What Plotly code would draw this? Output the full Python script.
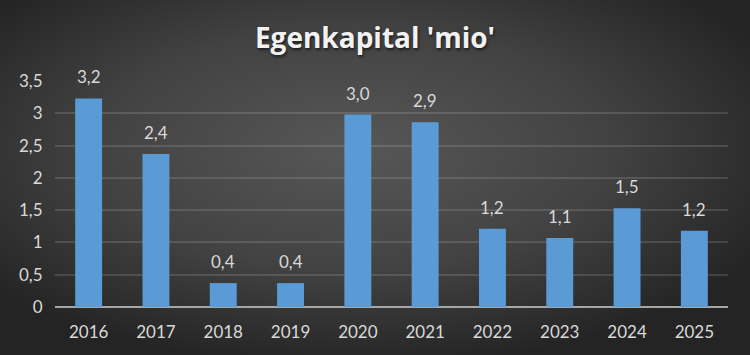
import base64
import plotly.graph_objects as go

years = ["2016", "2017", "2018", "2019", "2020", "2021", "2022", "2023", "2024", "2025"]
values = [3.23, 2.37, 0.37, 0.37, 2.98, 2.86, 1.21, 1.07, 1.53, 1.18]
y_ticks = [0, 0.5, 1, 1.5, 2, 2.5, 3, 3.5]
y_tick_labels = ["0", "0,5", "1", "1,5", "2", "2,5", "3", "3,5"]

W, H = 750, 355
L, R, T, B = 55, 22, 81, 48
pw, ph = W - L - R, H - T - B

svg = f"""<svg xmlns='http://www.w3.org/2000/svg' width='{W}' height='{H}' viewBox='0 0 {W} {H}'>
<defs><radialGradient id='g' cx='0.47' cy='0.42' r='0.62' gradientUnits='objectBoundingBox'>
<stop offset='0' stop-color='#575757'/><stop offset='0.55' stop-color='#424242'/><stop offset='1' stop-color='#242424'/>
</radialGradient></defs><rect width='{W}' height='{H}' fill='url(#g)'/></svg>"""
bg_uri = "data:image/svg+xml;base64," + base64.b64encode(svg.encode()).decode()

fig = go.Figure()
fig.add_trace(go.Bar(
    x=years, y=values,
    marker=dict(color="#5b9bd5", line=dict(width=0)),
    hoverinfo="skip",
))

for i, v in enumerate(values):
    fig.add_annotation(
        x=i, y=v, xref="x", yref="y",
        text=f"{v:.1f}".replace(".", ","),
        showarrow=False, yanchor="bottom", yshift=9,
        font=dict(family="Lato", size=17, color="#d9d9d9"),
    )

fig.add_layout_image(dict(
    source=bg_uri, xref="paper", yref="paper",
    x=-L / pw, y=1 + T / ph, sizex=W / pw, sizey=H / ph,
    xanchor="left", yanchor="top", sizing="stretch", layer="below",
))

fig.update_layout(
    width=W, height=H,
    margin=dict(l=L, r=R, t=T, b=B),
    paper_bgcolor="#383838",
    plot_bgcolor="rgba(0,0,0,0)",
    bargap=0.6,
    showlegend=False,
    title=dict(
        text="<b>Egenkapital 'mio'</b>",
        x=0.5, xref="container", xanchor="center",
        y=1 - 38 / H, yref="container", yanchor="middle",
        font=dict(family="Open Sans", size=28, color="#f2f2f2",
                  shadow="1px 2px 3px rgba(0,0,0,0.6)"),
    ),
    xaxis=dict(
        type="category", range=[-0.5, len(years) - 0.5],
        showgrid=False, showline=False, zeroline=False,
        tickfont=dict(family="Lato", size=17, color="#d9d9d9"),
        ticks="outside", ticklen=10, tickcolor="rgba(0,0,0,0)",
    ),
    yaxis=dict(
        range=[0, 3.5], tickvals=y_ticks, ticktext=y_tick_labels,
        showgrid=True, gridcolor="rgba(255,255,255,0.13)", gridwidth=1.5,
        zeroline=True, zerolinecolor="#a6a6a6", zerolinewidth=2,
        showline=False,
        ticks="outside", ticklen=8, tickcolor="rgba(0,0,0,0)",
        tickfont=dict(family="Lato", size=17, color="#d9d9d9"),
    ),
)

fig.write_html("out.html")
